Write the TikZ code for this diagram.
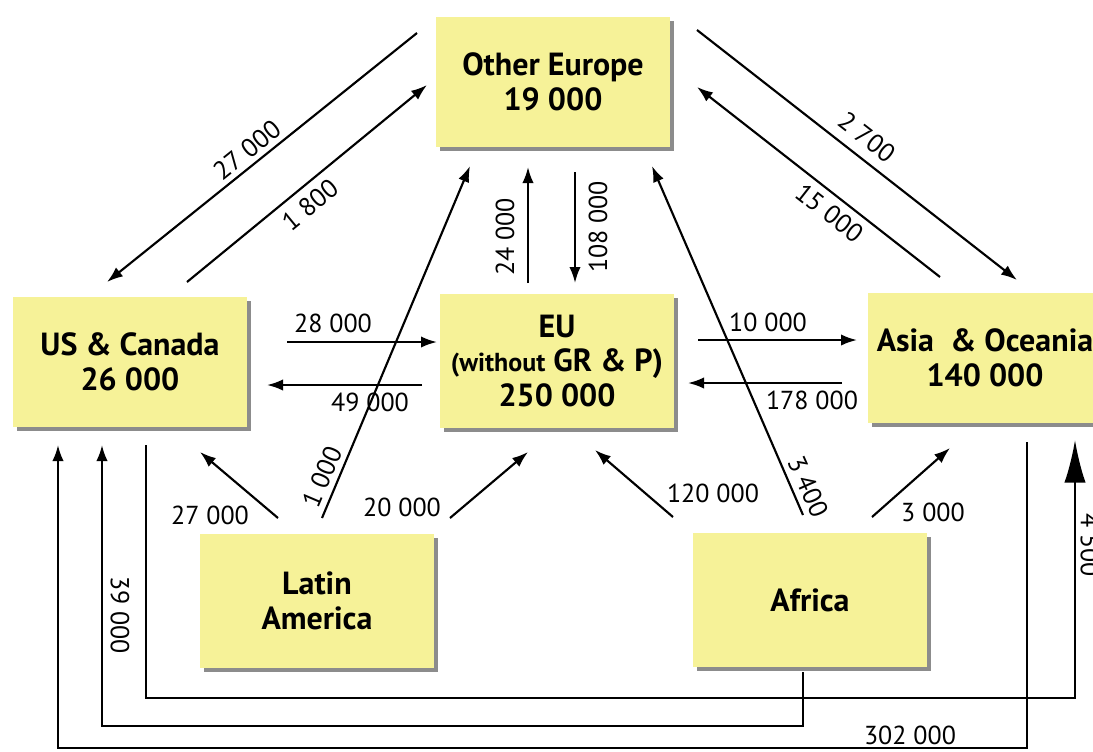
\documentclass[tikz,border=0pt]{standalone}
\usepackage{fontspec}
\setmainfont{PT Sans}
\usetikzlibrary{arrows.meta,shadows}
\definecolor{boxyellow}{RGB}{246,242,152}
\definecolor{shadowgray}{RGB}{140,140,140}
\newcommand\boxfont{\fontsize{24}{26}\selectfont\bfseries}
\newcommand\lblfont{\fontsize{19.5}{21}\selectfont}
\begin{document}
\begin{tikzpicture}[x=0.75pt,y=-0.75pt,
  box/.style={rectangle, fill=boxyellow, minimum width=175.5pt, minimum height=98pt,
    align=center, font=\boxfont, inner sep=0pt,
    drop shadow={fill=shadowgray, opacity=1, shadow xshift=3pt, shadow yshift=-3pt}},
  flow/.style={line width=1.6pt, -{Latex[length=12pt,width=8.5pt]}},
  bigflow/.style={line width=1.6pt, -{Latex[length=32pt,width=16pt]}},
  lbl/.style={font=\lblfont, inner sep=0pt}]
\useasboundingbox (0,0) rectangle (1093,751);
\fill[white] (0,0) rectangle (1093,751);

% boxes
\node[box] (oe) at (553,82) {Other Europe\\19 000};
\node[box] (us) at (130,362) {US \& Canada\\26 000};
\node[box, minimum height=100pt] (eu) at (557,361) {EU\\{\lblfont\bfseries (without} GR \& P)\\250 000};
\node[box] (as) at (985,358) {Asia~ \& Oceania\\140 000};
\node[box, minimum height=100pt] (la) at (317,601) {Latin\\America};
\node[box, minimum height=100pt] (af) at (810,600) {Africa};

% connector end points
\coordinate (a1s) at (417,33);  \coordinate (a1e) at (107,282);
\coordinate (a2s) at (187,282); \coordinate (a2e) at (427,85);
\coordinate (a3s) at (697,30);  \coordinate (a3e) at (1017,280);
\coordinate (a4s) at (940,277); \coordinate (a4e) at (697,87);
\coordinate (a5s) at (528,283); \coordinate (a5e) at (528,167);
\coordinate (a6s) at (575,172); \coordinate (a6e) at (575,283);
\coordinate (a7s) at (287,342); \coordinate (a7e) at (437,342);
\coordinate (a8s) at (422,385); \coordinate (a8e) at (267,385);
\coordinate (a9s) at (698,340); \coordinate (a9e) at (857,340);
\coordinate (a10s) at (842,383); \coordinate (a10e) at (688,383);
\coordinate (a11s) at (278,518); \coordinate (a11e) at (200,452);
\coordinate (a12s) at (322,518); \coordinate (a12e) at (470,166);
\coordinate (a13s) at (450,518); \coordinate (a13e) at (528,452);
\coordinate (a14s) at (673,517); \coordinate (a14e) at (595,450);
\coordinate (a15s) at (803,515); \coordinate (a15e) at (652,166);
\coordinate (a16s) at (872,517); \coordinate (a16e) at (950,448);
\coordinate (b1s) at (146,445); \coordinate (b1e) at (1075,440);
\coordinate (b2s) at (803,672); \coordinate (b2e) at (102,445);
\coordinate (b3s) at (1027,442); \coordinate (b3e) at (58,445);

% diagonal and straight flows
\draw[flow] (a1s) -- (a1e);
\draw[flow] (a2s) -- (a2e);
\draw[flow] (a3s) -- (a3e);
\draw[flow] (a4s) -- (a4e);
\draw[flow] (a5s) -- (a5e);
\draw[flow] (a6s) -- (a6e);
\draw[flow] (a7s) -- (a7e);
\draw[flow] (a8s) -- (a8e);
\draw[flow] (a9s) -- (a9e);
\draw[flow] (a10s) -- (a10e);
\draw[flow] (a11s) -- (a11e);
\draw[flow] (a12s) -- (a12e);
\draw[flow] (a13s) -- (a13e);
\draw[flow] (a14s) -- (a14e);
\draw[flow] (a15s) -- (a15e);
\draw[flow] (a16s) -- (a16e);

% bottom routed flows
\draw[bigflow] (b1s) -- ++(0,253) -| (b1e);
\draw[flow] (b2s) -- ++(0,54) -| (b2e);
\draw[flow] (b3s) -- ++(0,306) -| (b3e);

% labels
\node[lbl, rotate=38.8] (l1) at (247,150) {27 000};
\node[lbl, rotate=39.4] (l2) at (310,205) {1 800};
\node[lbl, rotate=-38] (l3) at (867,137) {2 700};
\node[lbl, rotate=-38] (l4) at (830,213) {15 000};
\node[lbl, rotate=90] (l5) at (505,237) {24 000};
\node[lbl, rotate=90] (l6) at (598,227) {108 000};
\node[lbl] (l7) at (333,323) {28 000};
\node[lbl] (l8) at (370,402) {49 000};
\node[lbl] (l9) at (768,322) {10 000};
\node[lbl] (l10) at (812,400) {178 000};
\node[lbl] (l11) at (210,515) {27 000};
\node[lbl, rotate=67] (l12) at (322,477) {1 000};
\node[lbl] (l13) at (402,507) {20 000};
\node[lbl] (l14) at (713,493) {120 000};
\node[lbl, rotate=-66] (l15) at (808,487) {3 400};
\node[lbl] (l16) at (933,512) {3 000};
\node[lbl, rotate=-90] (l17) at (120,615) {39 000};
\node[lbl, rotate=-90] (l18) at (1090,545) {4 500};
\node[lbl] (l19) at (910,735) {302 000};
\end{tikzpicture}
\end{document}
